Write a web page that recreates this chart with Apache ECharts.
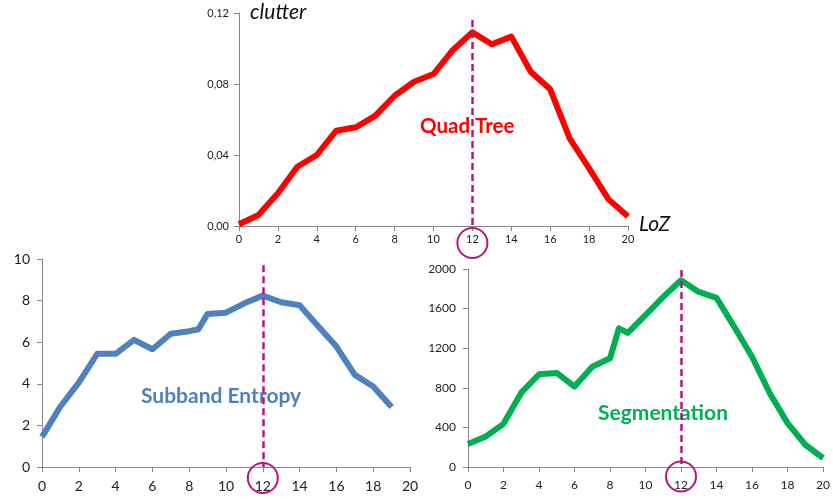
<!DOCTYPE html>
<html>
<head>
<meta charset="utf-8">
<script src="https://cdn.jsdelivr.net/npm/echarts@6/dist/echarts.min.js"></script>
<style>
  html, body { margin: 0; padding: 0; background: #fff; }
  #main { width: 833px; height: 499px; }
</style>
</head>
<body>
<div id="main"></div>
<script>
// level of zoom (LoZ) on x, measure on y
var loz = [0, 1, 2, 3, 4, 5, 6, 7, 8, 9, 10, 11, 12, 13, 14, 15, 16, 17, 18, 19, 20];
var clutter = [0.001, 0.0062, 0.0184, 0.0334, 0.040, 0.0537, 0.0556, 0.062, 0.0734, 0.0813, 0.0856,
    0.0992, 0.1091, 0.1024, 0.1067, 0.0869, 0.077, 0.0494, 0.0325, 0.015, 0.0053];

var lozEntropy = [0, 1, 2, 3, 4, 5, 6, 7, 8, 8.5, 9, 10, 11, 12, 13, 14, 15, 16, 17, 18, 19];
var entropy = [1.45, 2.91, 4.06, 5.44, 5.44, 6.11, 5.66, 6.41, 6.53, 6.62, 7.36, 7.42, 7.87, 8.24,
    7.92, 7.78, 6.78, 5.79, 4.43, 3.87, 2.88];

var lozSeg = [0, 1, 2, 3, 4, 5, 6, 7, 8, 8.5, 9, 10, 11, 12, 13, 14, 15, 16, 17, 18, 19, 20];
var segmentation = [232, 308, 436, 751, 936, 950, 812, 1013, 1098, 1400, 1355, 1534, 1718, 1886,
    1768, 1708, 1416, 1114, 745, 443, 225, 91];

var bestLoz = 12;

function pairs(xs, ys) {
    var out = [];
    for (var i = 0; i < xs.length; i++) out.push([xs[i], ys[i]]);
    return out;
}

var FONT = 'Lato, "Open Sans", sans-serif';
var axisGray = '#868686';
var mark = '#B5177A';

function xAxisOf(grid, size, margin) {
    return {
        type: 'value', gridIndex: grid, min: 0, max: 20, interval: 2,
        axisLine: { lineStyle: { color: axisGray, width: 1 } },
        axisTick: { show: true, length: 5, lineStyle: { color: axisGray } },
        axisLabel: { color: '#222', fontSize: size, fontFamily: FONT, margin: margin },
        splitLine: { show: false }
    };
}
function yAxisOf(grid, max, interval, size, margin, fmt) {
    return {
        type: 'value', gridIndex: grid, min: 0, max: max, interval: interval,
        axisLine: { show: true, lineStyle: { color: axisGray, width: 1 } },
        axisTick: { show: true, length: 5, lineStyle: { color: axisGray } },
        axisLabel: { color: '#222', fontSize: size, fontFamily: FONT, margin: margin,
            formatter: fmt || function (v) { return String(v); } },
        splitLine: { show: false }
    };
}
function bestLine(top) {
    return {
        silent: true, symbol: ['none', 'none'], label: { show: false },
        lineStyle: { color: mark, type: [7, 4], width: 2.5 },
        data: [[{ coord: [bestLoz, top] }, { coord: [bestLoz, 0] }]]
    };
}

var myChart = echarts.init(document.getElementById('main'));
var option = {
    animation: false,
    backgroundColor: '#fff',
    grid: [
        { left: 239, top: 13, width: 389, height: 213 },
        { left: 42, top: 259, width: 368, height: 208 },
        { left: 468, top: 269, width: 362, height: 198 }
    ],
    xAxis: [xAxisOf(0, 11, 8), xAxisOf(1, 14, 12), xAxisOf(2, 12, 12)],
    yAxis: [
        yAxisOf(0, 0.12, 0.04, 11, 10, function (v) { return v.toFixed(2).replace('.', ','); }),
        yAxisOf(1, 10, 2, 14, 12),
        yAxisOf(2, 2000, 400, 12, 12)
    ],
    series: [
        {
            name: 'Quad Tree', type: 'line', xAxisIndex: 0, yAxisIndex: 0,
            data: pairs(loz, clutter), showSymbol: false,
            lineStyle: { color: '#FF0000', width: 6, join: 'round' },
            markLine: bestLine(0.116)
        },
        {
            name: 'Subband Entropy', type: 'line', xAxisIndex: 1, yAxisIndex: 1,
            data: pairs(lozEntropy, entropy), showSymbol: false,
            lineStyle: { color: '#4F81BD', width: 6, join: 'round' },
            markLine: bestLine(9.7)
        },
        {
            name: 'Segmentation', type: 'line', xAxisIndex: 2, yAxisIndex: 2,
            data: pairs(lozSeg, segmentation), showSymbol: false,
            lineStyle: { color: '#00B050', width: 6, join: 'round' },
            markLine: bestLine(1990)
        }
    ],
    graphic: [
        { type: 'text', left: 250, top: 2, style: { text: 'clutter', font: 'italic 21px ' + FONT, fill: '#111' } },
        { type: 'text', left: 639, top: 214, style: { text: 'LoZ', font: 'italic 21px ' + FONT, fill: '#111' } },
        { type: 'text', left: 420, top: 116, style: { text: 'Quad Tree', font: 'bold 20.5px ' + FONT, fill: '#FF0000' } },
        { type: 'text', left: 141, top: 386, style: { text: 'Subband Entropy', font: 'bold 21px ' + FONT, fill: '#4F81BD' } },
        { type: 'text', left: 598, top: 403, style: { text: 'Segmentation', font: 'bold 21px ' + FONT, fill: '#00B050' } }
    ]
};
myChart.setOption(option);

// circles round the best LoZ tick label on each chart
var rings = [];
var drops = [17, 11, 9.5];
for (var g = 0; g < 3; g++) {
    var p = myChart.convertToPixel({ xAxisIndex: g, yAxisIndex: g }, [bestLoz, 0]);
    rings.push({
        type: 'circle', silent: true, z: 10,
        shape: { cx: p[0], cy: p[1] + drops[g], r: 15 },
        style: { fill: 'none', stroke: mark, lineWidth: 2 }
    });
}
myChart.setOption({ graphic: option.graphic.concat(rings) });
</script>
</body>
</html>
